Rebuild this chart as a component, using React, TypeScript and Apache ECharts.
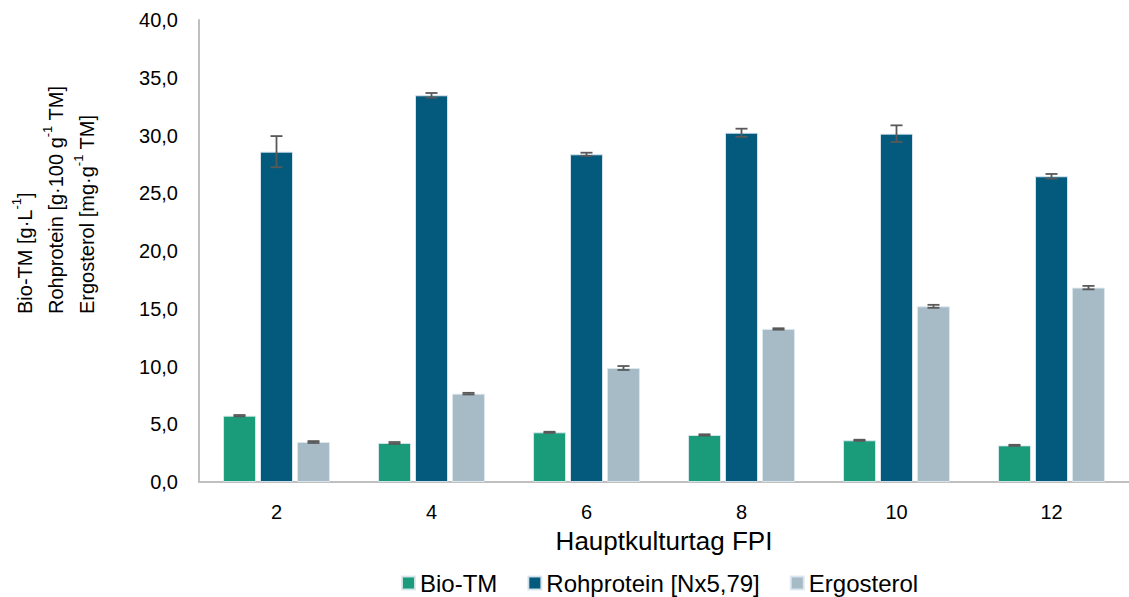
import React, { useEffect, useRef } from "react";
import * as echarts from "echarts";

const categories = ["2", "4", "6", "8", "10", "12"];
const bioTM = [5.74, 3.38, 4.3, 4.07, 3.61, 3.17];
const bioTMErr = [0.06, 0.08, 0.05, 0.06, 0.05, 0.05];
const rohprotein = [28.6, 33.48, 28.37, 30.24, 30.16, 26.47];
const rohproteinErr = [1.35, 0.2, 0.14, 0.35, 0.72, 0.2];
const ergosterol = [3.46, 7.65, 9.87, 13.25, 15.21, 16.83];
const ergosterolErr = [0.08, 0.07, 0.17, 0.06, 0.13, 0.15];
const seriesNames = ["Bio-TM", "Rohprotein [Nx5,79]", "Ergosterol"];
const colors = ["#1a9c7b", "#035a7d", "#a7bbc7"];

const FONT = "Liberation Sans, Arial, sans-serif";

export default function App() {
  const ref = useRef<HTMLDivElement>(null);
  useEffect(() => {
    document.body.style.margin = "0";
    const chart = echarts.init(ref.current!, null, { renderer: "svg" });
    const values = [bioTM, rohprotein, ergosterol];
    const errs = [bioTMErr, rohproteinErr, ergosterolErr];
    const offsets = [-37, 0, 37];

    const barSeries = values.map((v, i) => ({
      name: seriesNames[i],
      type: "bar",
      data: v,
      barWidth: 33,
      barGap: "12%",
      itemStyle: { color: colors[i], borderColor: "rgba(220,232,238,0.9)", borderWidth: 1 },
    }));

    const errSeries = values.map((v, i) => ({
      name: "err" + i,
      type: "custom",
      z: 10,
      data: v.map((val, k) => [k, val - errs[i][k], val + errs[i][k]]),
      encode: { x: 0, y: [1, 2] },
      renderItem: (params: any, api: any) => {
        const x = api.value(0);
        const lo = api.coord([x, api.value(1)]);
        const hi = api.coord([x, api.value(2)]);
        const cx = lo[0] + offsets[i];
        const w = 6;
        const style = { stroke: "#595959", lineWidth: 1.8 };
        return {
          type: "group",
          children: [
            { type: "line", shape: { x1: cx, y1: lo[1], x2: cx, y2: hi[1] }, style },
            { type: "line", shape: { x1: cx - w, y1: lo[1], x2: cx + w, y2: lo[1] }, style },
            { type: "line", shape: { x1: cx - w, y1: hi[1], x2: cx + w, y2: hi[1] }, style },
          ],
        };
      },
    }));

    chart.setOption({
      animation: false,
      textStyle: { fontFamily: FONT },
      grid: { left: 199, top: 20, width: 937, height: 462 },
      legend: {
        data: seriesNames,
        top: 566,
        left: 396,
        icon: "rect",
        itemWidth: 13,
        itemHeight: 13,
        itemGap: 30,
        textStyle: { fontSize: 24, color: "#000", fontFamily: FONT },
      },
      xAxis: {
        type: "category",
        data: categories,
        name: "Hauptkulturtag FPI",
        nameLocation: "middle",
        nameGap: 46,
        nameTextStyle: { fontSize: 26, color: "#000", fontFamily: FONT },
        axisTick: { show: false },
        axisLine: { lineStyle: { color: "#bfbfbf", width: 2 } },
        axisLabel: { fontSize: 20, color: "#000", margin: 20, fontFamily: FONT },
      },
      yAxis: {
        type: "value",
        min: 0,
        max: 40,
        interval: 5,
        splitLine: { show: false },
        axisLine: { show: true, lineStyle: { color: "#bfbfbf", width: 2 } },
        axisTick: { show: false },
        axisLabel: {
          fontSize: 20,
          color: "#000",
          margin: 21,
          fontFamily: FONT,
          formatter: (v: number) => v.toFixed(1).replace(".", ","),
        },
      },
      graphic: [
        {
          type: "text",
          x: 56,
          y: 314,
          rotation: Math.PI / 2,
          style: {
            text:
              "Bio-TM [g·L{sup|-1}]\nRohprotein [g·100 g{sup|-1} TM]\nErgosterol [mg·g{sup|-1} TM]",
            font: "20px " + FONT,
            fill: "#000",
            align: "left",
            verticalAlign: "middle",
            lineHeight: 31,
            rich: {
              sup: { fontSize: 13, fontFamily: FONT, verticalAlign: "top", lineHeight: 31, fill: "#000" },
            },
          },
        },
      ],
      series: [...barSeries, ...errSeries],
    });
    return () => chart.dispose();
  }, []);
  return <div ref={ref} style={{ width: 1129, height: 597 }} />;
}
